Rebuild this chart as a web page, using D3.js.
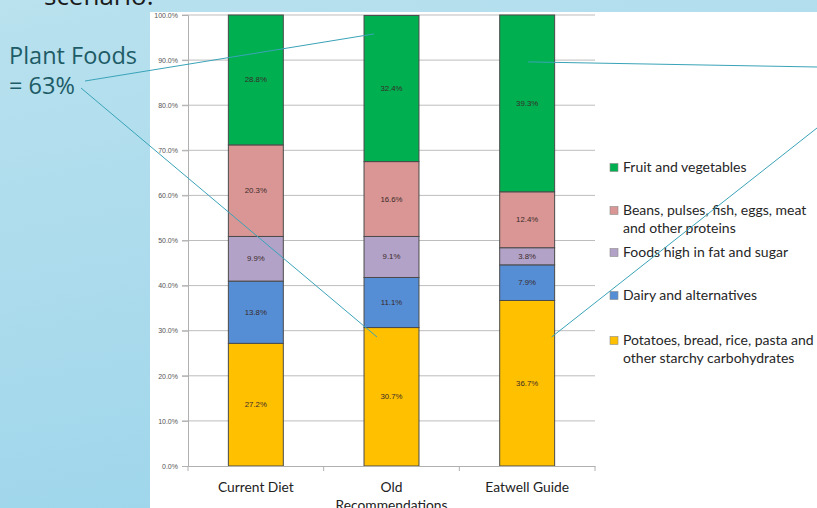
<!DOCTYPE html>
<html>
<head>
<meta charset="utf-8">
<script src="https://cdn.jsdelivr.net/npm/d3@7"></script>
<style>
  html, body { margin: 0; padding: 0; overflow: hidden; }
  svg { display: block; }
</style>
</head>
<body>
<svg id="chart" width="817" height="508"></svg>
<script>
// data
const categories = ["Current Diet", "Old Recommendations", "Eatwell Guide"];
const groups = ["starchy", "dairy", "fatSugar", "protein", "fruitVeg"];
const starchy = [27.2, 30.7, 36.7];
const dairy = [13.8, 11.1, 7.9];
const fatSugar = [9.9, 9.1, 3.8];
const protein = [20.3, 16.6, 12.4];
const fruitVeg = [28.8, 32.4, 39.3];
const legendLabels = [
  ["Fruit and vegetables"],
  ["Beans, pulses, fish, eggs, meat", "and other proteins"],
  ["Foods high in fat and sugar"],
  ["Dairy and alternatives"],
  ["Potatoes, bread, rice, pasta and", "other starchy carbohydrates"],
];
const legendKeys = ["fruitVeg", "protein", "fatSugar", "dairy", "starchy"];
const yTicks = [0, 10, 20, 30, 40, 50, 60, 70, 80, 90, 100];

const colors = {
  starchy: "#ffc000",
  dairy: "#558ed5",
  fatSugar: "#b3a2c7",
  protein: "#d99694",
  fruitVeg: "#00b050",
};

const svg = d3.select("#chart");

// slide background
const defs = svg.append("defs");
const grad = defs.append("linearGradient").attr("id", "bg")
  .attr("x1", "0").attr("y1", "0").attr("x2", "0.3").attr("y2", "1");
grad.append("stop").attr("offset", "0").attr("stop-color", "#b9e1ee");
grad.append("stop").attr("offset", "1").attr("stop-color", "#9fd6eb");
svg.append("rect").attr("width", 817).attr("height", 508).attr("fill", "url(#bg)");

svg.append("text")
  .attr("x", 44).attr("y", 5)
  .attr("font-family", "Open Sans, sans-serif")
  .attr("font-size", 26)
  .attr("fill", "#1b1b1b")
  .text("scenario.");

// white chart image
svg.append("rect").attr("x", 150).attr("y", 12).attr("width", 667).attr("height", 496).attr("fill", "#ffffff");

const table = categories.map((c, i) => ({
  category: c,
  starchy: starchy[i],
  dairy: dairy[i],
  fatSugar: fatSugar[i],
  protein: protein[i],
  fruitVeg: fruitVeg[i],
}));

const x = d3.scaleBand().domain(categories).range([188, 595]).paddingInner(0.595).paddingOuter(0.2975);
const y = d3.scaleLinear().domain([0, 100]).range([466, 15]);

// gridlines
svg.append("g")
  .selectAll("line")
  .data(yTicks.slice(1))
  .enter()
  .append("line")
  .attr("x1", 182).attr("x2", 595)
  .attr("y1", (d) => y(d)).attr("y2", (d) => y(d))
  .attr("stroke", "#bdbdbd").attr("stroke-width", 1);

// y axis
const yAxis = svg.append("g")
  .attr("transform", "translate(188,0)")
  .call(d3.axisLeft(y).tickValues(yTicks).tickSize(6).tickFormat((d) => d.toFixed(1) + "%"));
yAxis.select(".domain").attr("stroke", "#b0b0b0");
yAxis.selectAll(".tick line").attr("stroke", "#b0b0b0");
yAxis.selectAll(".tick text")
  .attr("x", -10)
  .attr("font-family", "Liberation Sans, sans-serif")
  .attr("font-size", 7)
  .attr("fill", "#555");

// stacked bars
const stack = d3.stack().keys(groups)(table);
const layers = svg.append("g")
  .selectAll("g")
  .data(stack)
  .enter()
  .append("g")
  .attr("fill", (d) => colors[d.key]);

layers.selectAll("rect")
  .data((d) => d)
  .enter()
  .append("rect")
  .attr("x", (d) => x(d.data.category))
  .attr("y", (d) => y(Math.min(d[1], 100)))
  .attr("height", (d) => y(d[0]) - y(Math.min(d[1], 100)))
  .attr("width", x.bandwidth())
  .attr("stroke", "#4a4a4a")
  .attr("stroke-width", 1);

layers.selectAll("text")
  .data((d) => d)
  .enter()
  .append("text")
  .attr("x", (d) => x(d.data.category) + x.bandwidth() / 2)
  .attr("y", (d) => (y(d[0]) + y(Math.min(d[1], 100))) / 2 + 2.5)
  .attr("text-anchor", "middle")
  .attr("font-family", "Liberation Sans, sans-serif")
  .attr("font-size", 7.8)
  .attr("fill", "#3a2a2a")
  .text((d) => (d[1] - d[0]).toFixed(1) + "%");

// x axis
const xAxis = svg.append("g")
  .attr("transform", "translate(0,466)")
  .call(d3.axisBottom(x).tickSize(0).tickFormat(""));
xAxis.select(".domain").attr("stroke", "#b0b0b0");
svg.append("g")
  .selectAll("line")
  .data(categories.concat([null]))
  .enter()
  .append("line")
  .attr("x1", (d, i) => (i < categories.length ? x(d) - x.step() * x.paddingInner() / 2 : 595))
  .attr("x2", (d, i) => (i < categories.length ? x(d) - x.step() * x.paddingInner() / 2 : 595))
  .attr("y1", 466).attr("y2", 471)
  .attr("stroke", "#b0b0b0");

svg.append("g")
  .selectAll("text")
  .data(categories)
  .enter()
  .append("text")
  .attr("x", (d) => x(d) + x.bandwidth() / 2)
  .attr("y", 492)
  .attr("text-anchor", "middle")
  .attr("font-family", "Lato, sans-serif")
  .attr("font-size", 13.8)
  .attr("fill", "#222")
  .each(function (d) {
    const parts = d === "Old Recommendations" ? ["Old", "Recommendations"] : [d];
    d3.select(this).selectAll("tspan")
      .data(parts)
      .enter()
      .append("tspan")
      .attr("x", x(d) + x.bandwidth() / 2)
      .attr("dy", (p, i) => (i === 0 ? 0 : 18))
      .text((p) => p);
  });

// legend
const legendY = [172, 215, 257, 300, 345];
const legend = svg.append("g")
  .selectAll("g")
  .data(legendKeys)
  .enter()
  .append("g")
  .attr("transform", (d, i) => `translate(610,${legendY[i]})`);
legend.append("rect")
  .attr("x", 0).attr("y", -8.5)
  .attr("width", 8).attr("height", 8)
  .attr("fill", (d) => colors[d])
  .attr("stroke", "#8a8a8a").attr("stroke-width", 0.6);
legend.append("text")
  .attr("font-family", "Lato, sans-serif")
  .attr("font-size", 14)
  .attr("fill", "#262626")
  .each(function (d, i) {
    d3.select(this).selectAll("tspan")
      .data(legendLabels[i])
      .enter()
      .append("tspan")
      .attr("x", 13)
      .attr("dy", (p, j) => (j === 0 ? 0 : 17.5))
      .text((p) => p);
  });

// annotation
const note = svg.append("text")
  .attr("font-family", "Open Sans, sans-serif")
  .attr("font-size", 23.5)
  .attr("fill", "#1d5c66");
note.append("tspan").attr("x", 9).attr("y", 64).text("Plant Foods");
note.append("tspan").attr("x", 9).attr("y", 94).text("= 63%");

const old = "Old Recommendations";
const eat = "Eatwell Guide";
const callouts = [
  [85, 81, x(old) + 10, y(95.8)],
  [81, 88, x(old) + 13, y(28.6)],
  [x(eat) + x.bandwidth() / 2 + 1, y(89.6), 817, 67],
  [x(eat) + x.bandwidth() - 3, y(28.6), 817, 128],
];
svg.append("g")
  .selectAll("line")
  .data(callouts)
  .enter()
  .append("line")
  .attr("x1", (d) => d[0]).attr("y1", (d) => d[1])
  .attr("x2", (d) => d[2]).attr("y2", (d) => d[3])
  .attr("stroke", "#3aa3b8").attr("stroke-width", 1);
</script>
</body>
</html>
